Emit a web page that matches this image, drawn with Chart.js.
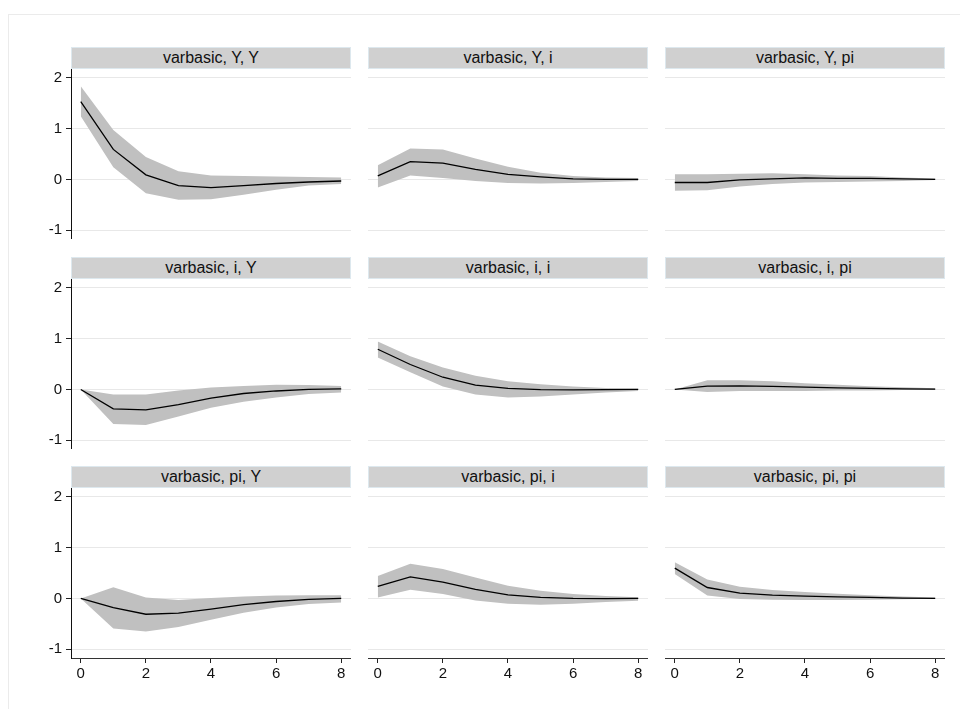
<!DOCTYPE html>
<html>
<head>
<meta charset="utf-8">
<script src="https://cdn.jsdelivr.net/npm/chart.js@4"></script>
<style>
  html, body { margin: 0; padding: 0; background: #fff; overflow: hidden; }
  body { width: 960px; height: 709px; position: relative; font-family: "Liberation Sans", Arial, sans-serif; }
  .frame { position: absolute; left: 8px; top: 14px; width: 980px; height: 720px; border: 1px solid #ebebeb; }
  .strip {
    position: absolute; box-sizing: border-box; height: 22px;
    background: #d0d0d0; border: 1px solid #dde8ee;
    font-size: 16px; line-height: 20px; text-align: center; color: #111;
  }
  canvas { position: absolute; }
</style>
</head>
<body>
<div class="frame"></div>
<script>
// impulse-response horizons and axis ticks
const horizon = [0, 1, 2, 3, 4, 5, 6, 7, 8];
const xTicks = [0, 2, 4, 6, 8];
const yTicks = [-1, 0, 1, 2];
const impulses = ['Y', 'i', 'pi'];
const responses = ['Y', 'i', 'pi'];

// irf = point estimate, lo/hi = confidence band
const irf_Y_Y = [1.53, 0.59, 0.09, -0.12, -0.16, -0.12, -0.08, -0.05, -0.03];
const lo_Y_Y  = [1.24, 0.24, -0.27, -0.40, -0.39, -0.30, -0.20, -0.12, -0.09];
const hi_Y_Y  = [1.83, 0.97, 0.44, 0.16, 0.08, 0.07, 0.06, 0.05, 0.04];

const irf_Y_i = [0.07, 0.35, 0.32, 0.20, 0.10, 0.05, 0.01, 0.0, 0.0];
const lo_Y_i  = [-0.16, 0.08, 0.03, -0.03, -0.07, -0.08, -0.07, -0.05, -0.03];
const hi_Y_i  = [0.28, 0.61, 0.59, 0.41, 0.25, 0.13, 0.07, 0.04, 0.03];

const irf_Y_pi = [-0.06, -0.06, -0.01, 0.01, 0.03, 0.02, 0.02, 0.01, 0.0];
const lo_Y_pi  = [-0.22, -0.21, -0.14, -0.09, -0.06, -0.05, -0.04, -0.03, -0.01];
const hi_Y_pi  = [0.10, 0.10, 0.11, 0.12, 0.10, 0.08, 0.07, 0.04, 0.02];

const irf_i_Y = [0.0, -0.38, -0.40, -0.30, -0.17, -0.08, -0.03, 0.0, 0.01];
const lo_i_Y  = [0.0, -0.68, -0.70, -0.53, -0.36, -0.24, -0.16, -0.09, -0.06];
const hi_i_Y  = [0.0, -0.10, -0.10, -0.02, 0.04, 0.07, 0.09, 0.085, 0.07];

const irf_i_i = [0.79, 0.49, 0.24, 0.085, 0.02, -0.005, -0.01, -0.005, 0.0];
const lo_i_i  = [0.63, 0.34, 0.06, -0.10, -0.16, -0.14, -0.10, -0.06, -0.03];
const hi_i_i  = [0.94, 0.65, 0.43, 0.27, 0.16, 0.10, 0.06, 0.03, 0.015];

const irf_i_pi = [0.0, 0.065, 0.07, 0.06, 0.045, 0.03, 0.02, 0.01, 0.005];
const lo_i_pi  = [0.0, -0.05, -0.03, -0.03, -0.03, -0.02, -0.02, -0.01, -0.01];
const hi_i_pi  = [0.0, 0.18, 0.18, 0.16, 0.12, 0.09, 0.065, 0.045, 0.025];

const irf_pi_Y = [0.0, -0.18, -0.31, -0.29, -0.21, -0.12, -0.06, -0.02, 0.0];
const lo_pi_Y  = [0.0, -0.59, -0.65, -0.56, -0.42, -0.28, -0.18, -0.11, -0.08];
const hi_pi_Y  = [0.0, 0.22, 0.02, -0.03, 0.01, 0.04, 0.06, 0.065, 0.065];

const irf_pi_i = [0.235, 0.425, 0.32, 0.18, 0.07, 0.02, 0.0, -0.005, 0.0];
const lo_pi_i  = [0.02, 0.17, 0.085, -0.04, -0.105, -0.125, -0.105, -0.07, -0.045];
const hi_pi_i  = [0.44, 0.68, 0.58, 0.41, 0.25, 0.15, 0.085, 0.05, 0.025];

const irf_pi_pi = [0.595, 0.215, 0.105, 0.065, 0.045, 0.03, 0.02, 0.007, 0.0];
const lo_pi_pi  = [0.48, 0.06, -0.01, -0.025, -0.03, -0.03, -0.025, -0.015, -0.005];
const hi_pi_pi  = [0.71, 0.37, 0.23, 0.165, 0.125, 0.09, 0.065, 0.04, 0.02];

const series = {
    Y_Y: [irf_Y_Y, lo_Y_Y, hi_Y_Y], Y_i: [irf_Y_i, lo_Y_i, hi_Y_i], Y_pi: [irf_Y_pi, lo_Y_pi, hi_Y_pi],
    i_Y: [irf_i_Y, lo_i_Y, hi_i_Y], i_i: [irf_i_i, lo_i_i, hi_i_i], i_pi: [irf_i_pi, lo_i_pi, hi_i_pi],
    pi_Y: [irf_pi_Y, lo_pi_Y, hi_pi_Y], pi_i: [irf_pi_i, lo_pi_i, hi_pi_i], pi_pi: [irf_pi_pi, lo_pi_pi, hi_pi_pi]
};

// panel grid geometry
const colLeft = [71, 368, 665];
const rowTop = [69, 279, 488];
const plotW = 280, plotH = 170, stripH = 22;
const yAxisW = 40, xAxisH = 30;
const tickFont = { family: '"Liberation Sans", Arial, sans-serif', size: 15 };

function toPoints(vals) {
    return horizon.map((h, k) => ({ x: h, y: vals[k] }));
}

// pin axis boxes to fixed sizes so every plot area lines up
function pinX(s) {
    s.height = xAxisH;
    s.paddingLeft = 0;
    s.paddingRight = 0;
}
function pinY(s) {
    s.width = yAxisW;
    s.paddingTop = 0;
    s.paddingBottom = 0;
}

function makePanel(r, c) {
    const key = impulses[r] + '_' + responses[c];
    const [irf, lo, hi] = series[key];
    const showY = c === 0;
    const showX = r === 2;

    const strip = document.createElement('div');
    strip.className = 'strip';
    strip.style.left = colLeft[c] + 'px';
    strip.style.top = (rowTop[r] - stripH) + 'px';
    strip.style.width = plotW + 'px';
    strip.innerText = 'varbasic, ' + impulses[r] + ', ' + responses[c];
    document.body.appendChild(strip);

    const canvas = document.createElement('canvas');
    const w = plotW + yAxisW;
    const h = plotH + (showX ? xAxisH : 0);
    canvas.width = w;
    canvas.height = h;
    canvas.style.width = w + 'px';
    canvas.style.height = h + 'px';
    canvas.style.left = (colLeft[c] - yAxisW) + 'px';
    canvas.style.top = rowTop[r] + 'px';
    document.body.appendChild(canvas);

    new Chart(canvas.getContext('2d'), {
        type: 'line',
        data: {
            datasets: [
                { data: toPoints(irf), borderColor: '#000', borderWidth: 1.3, pointRadius: 0, fill: false },
                { data: toPoints(hi), borderWidth: 0, pointRadius: 0, fill: '+1', backgroundColor: 'rgb(192,192,192)' },
                { data: toPoints(lo), borderWidth: 0, pointRadius: 0, fill: false }
            ]
        },
        options: {
            responsive: false,
            animation: false,
            layout: { padding: 0 },
            plugins: { legend: { display: false }, tooltip: { enabled: false } },
            scales: {
                x: {
                    type: 'linear',
                    display: showX,
                    min: -0.3,
                    max: 8.3,
                    afterBuildTicks: s => { s.ticks = xTicks.map(v => ({ value: v })); },
                    afterFit: s => { if (showX) pinX(s); },
                    grid: { drawOnChartArea: false, drawTicks: true, tickLength: 5, tickColor: '#222' },
                    border: { display: true, color: '#333', width: 1 },
                    ticks: { color: '#111', font: tickFont, padding: 2, maxRotation: 0 }
                },
                y: {
                    type: 'linear',
                    min: -1.17,
                    max: 2.17,
                    afterBuildTicks: s => { s.ticks = yTicks.map(v => ({ value: v })); },
                    afterFit: pinY,
                    grid: { color: '#e8e8e8', lineWidth: 1, drawTicks: showY, tickLength: 5, tickColor: '#222' },
                    border: { display: showY, color: '#111', width: 1 },
                    ticks: { display: showY, color: '#111', font: tickFont, padding: 4 }
                }
            }
        }
    });
}

for (let r = 0; r < 3; r++) {
    for (let c = 0; c < 3; c++) {
        makePanel(r, c);
    }
}
</script>
</body>
</html>
